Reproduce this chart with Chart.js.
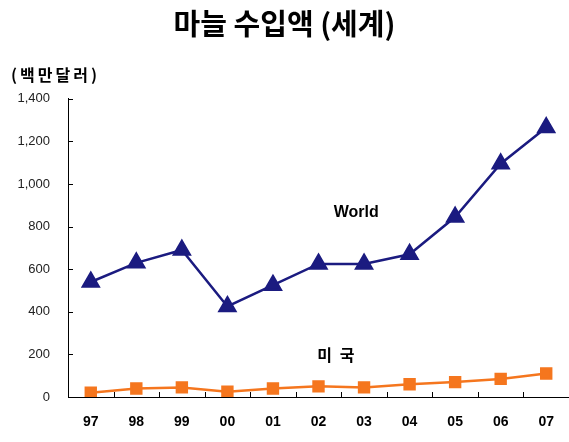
<!DOCTYPE html>
<html>
<head>
<meta charset="utf-8">
<script src="https://cdn.jsdelivr.net/npm/chart.js@4"></script>
<style>
html,body{margin:0;padding:0;background:#fff;}
#wrap{width:569px;height:442px;}
</style>
</head>
<body>
<div id="wrap"><canvas id="garlicChart" width="569" height="442"></canvas></div>
<script>
const years = ["97","98","99","00","01","02","03","04","05","06","07"];
const worldValues = [540,630,690,425,525,625,625,670,845,1095,1265];
const usValues = [20,40,45,25,40,50,45,60,70,85,110];
const yTicks = [0,200,400,600,800,1000,1200,1400];

const FONT = "'Liberation Sans', Arial, 'Noto Sans CJK KR', sans-serif";
const KFONT = "'Noto Sans CJK KR', 'Liberation Sans', sans-serif";

// inward ticks, unit label and series labels
const extras = {
id:"extras",
afterDraw(chart){
const ctx = chart.ctx;
const x = chart.scales.x;
const y = chart.scales.y;
ctx.save();
ctx.strokeStyle = "#000";
ctx.lineWidth = 1;
ctx.beginPath();
yTicks.forEach(v=>{
const py = Math.round(y.getPixelForValue(v))+0.5;
ctx.moveTo(x.left, py);
ctx.lineTo(x.left+5, py);
});
for(let i=1;i<years.length;i++){
const px = Math.round((x.getPixelForValue(i-1)+x.getPixelForValue(i))/2)+0.5;
ctx.moveTo(px, y.bottom);
ctx.lineTo(px, y.bottom-5);
}
ctx.stroke();

ctx.fillStyle = "#000";
ctx.font = "bold 16px " + KFONT;
ctx.letterSpacing = "3px";
ctx.textAlign = "left";
ctx.textBaseline = "middle";
ctx.fillText("(백만달러)", 11, 75);
ctx.letterSpacing = "0px";

ctx.font = "bold 16px " + FONT;
ctx.textAlign = "center";
ctx.fillText("World", x.getPixelForValue(5.83), y.getPixelForValue(868));

ctx.font = "bold 16px " + KFONT;
ctx.letterSpacing = "8px";
ctx.textAlign = "left";
ctx.fillText("미국", x.getPixelForValue(4.97), y.getPixelForValue(197));
ctx.restore();
}
};

new Chart(document.getElementById("garlicChart"),{
type:"line",
data:{
labels:years,
datasets:[{
label:"World",
data:worldValues,
borderColor:"#1b1b80",
backgroundColor:"#1b1b80",
borderWidth:2.5,
pointStyle:"triangle",
pointRadius:9,
pointHoverRadius:9,
tension:0
},{
label:"미국",
data:usValues,
borderColor:"#f5761e",
backgroundColor:"#f5761e",
borderWidth:2.5,
pointStyle:"rect",
pointRadius:7,
pointHoverRadius:7,
tension:0
}]
},
options:{
responsive:false,
animation:false,
layout:{autoPadding:false,padding:{left:0,right:0,top:0,bottom:0}},
plugins:{
legend:{display:false},
tooltip:{enabled:false},
title:{
display:true,
text:"마늘 수입액 (세계)",
color:"#000",
font:{family:KFONT,size:29,weight:"bold"},
padding:{top:7,bottom:57}
}
},
scales:{
x:{
offset:true,
afterFit(scale){
scale.height = 45;
scale.paddingLeft = 0;
scale.paddingRight = 0;
},
grid:{display:false},
border:{display:true,color:"#000",width:1},
ticks:{color:"#000",font:{family:FONT,size:14,weight:"bold"},padding:9,maxRotation:0}
},
y:{
min:0,
max:1400,
afterBuildTicks(scale){
scale.ticks = yTicks.map(v=>({value:v}));
},
afterFit(scale){
scale.width = 68;
},
grid:{display:false},
border:{display:true,color:"#000",width:1},
ticks:{color:"#222",font:{family:FONT,size:13},padding:10}
}
}
},
plugins:[extras]
});
</script>
</body>
</html>
